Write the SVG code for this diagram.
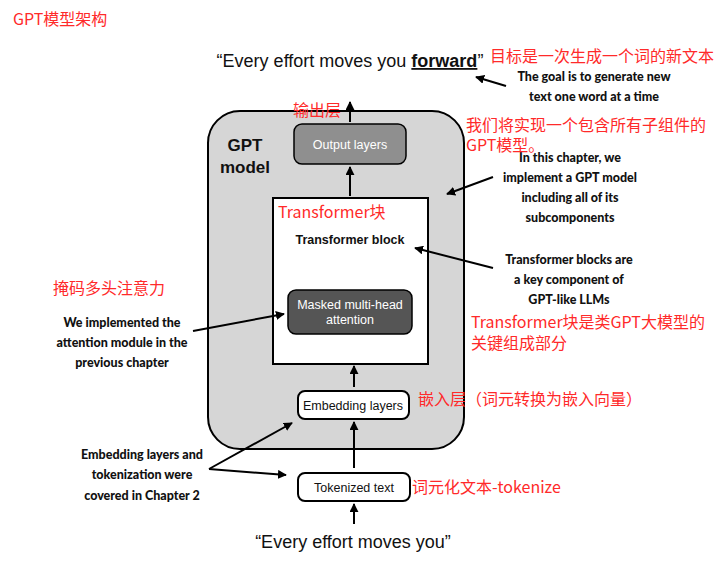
<svg xmlns="http://www.w3.org/2000/svg" width="720" height="578" viewBox="0 0 720 578">
<defs>
<marker id="ah" viewBox="0 0 10 10" refX="9" refY="5" markerWidth="9" markerHeight="9" markerUnits="userSpaceOnUse" orient="auto">
<path d="M0,0 L10,5 L0,10 z" fill="#000"/>
</marker>
<style>
.red{font-family:"Noto Sans CJK SC","Noto Sans",sans-serif;font-size:16px;fill:#ff2a2a}
.ann{font-family:Lato,"Liberation Sans",sans-serif;font-weight:900;font-size:12.5px;fill:#111;text-anchor:middle}
.box{font-family:"Liberation Sans",Arial,sans-serif;font-size:12.5px;text-anchor:middle}
.quote{font-family:"Liberation Sans",Arial,sans-serif;font-size:18px;fill:#111;text-anchor:middle}
.ln{stroke:#000;stroke-width:2;fill:none}
</style>
</defs>
<rect width="720" height="578" fill="#fff"/>
<text class="red" x="13" y="25">GPT模型架构</text>

<g id="gpt-model">
<rect x="208" y="111" width="256" height="338" rx="32" fill="#d6d6d6" stroke="#000" stroke-width="2"/>
<text x="245" y="151" font-family="Liberation Sans,Arial,sans-serif" font-weight="bold" font-size="17" text-anchor="middle" fill="#111">GPT</text>
<text x="245" y="173" font-family="Liberation Sans,Arial,sans-serif" font-weight="bold" font-size="17" text-anchor="middle" fill="#111">model</text>
</g>

<g id="output-layers">
<rect x="294" y="124" width="112" height="40" rx="8" fill="#8f8f8f" stroke="#000" stroke-width="1.5"/>
<text class="box" x="350" y="149" fill="#fff">Output layers</text>
</g>

<g id="transformer-block">
<rect x="273" y="198" width="155" height="166" fill="#fff" stroke="#000" stroke-width="2"/>
<text x="350" y="244" font-family="Liberation Sans,Arial,sans-serif" font-weight="bold" font-size="12.5" text-anchor="middle" fill="#111">Transformer block</text>
</g>

<g id="masked-attention">
<rect x="288" y="290" width="124" height="44" rx="8" fill="#555" stroke="#000" stroke-width="1.5"/>
<text class="box" x="350" y="309" fill="#fff">Masked multi-head</text>
<text class="box" x="350" y="324" fill="#fff">attention</text>
</g>

<g id="embedding-layers">
<rect x="298" y="391" width="111" height="28" rx="7" fill="#fff" stroke="#000" stroke-width="2"/>
<text class="box" x="353" y="410" fill="#111">Embedding layers</text>
</g>

<g id="tokenized-text">
<rect x="298" y="473" width="112" height="28" rx="7" fill="#fff" stroke="#000" stroke-width="2"/>
<text class="box" x="354" y="492" fill="#111">Tokenized text</text>
</g>

<g id="top-text">
<text class="quote" x="350" y="67">“Every effort moves you <tspan font-weight="bold" text-decoration="underline">forward</tspan>”</text>
</g>
<g id="bottom-text">
<text class="quote" x="353" y="548">“Every effort moves you”</text>
</g>

<g id="connectors">
<line class="ln" x1="350" y1="122" x2="350" y2="102" marker-end="url(#ah)"/>
<line class="ln" x1="350" y1="196" x2="350" y2="167" marker-end="url(#ah)"/>
<line class="ln" x1="354" y1="387" x2="354" y2="366" marker-end="url(#ah)"/>
<line class="ln" x1="354" y1="468" x2="354" y2="422" marker-end="url(#ah)"/>
<line class="ln" x1="354" y1="524" x2="354" y2="504" marker-end="url(#ah)"/>
<line class="ln" x1="506" y1="86" x2="476" y2="77" marker-end="url(#ah)"/>
<line class="ln" x1="493" y1="177" x2="447" y2="194" marker-end="url(#ah)"/>
<line class="ln" x1="493" y1="268" x2="415" y2="248" marker-end="url(#ah)"/>
<line class="ln" x1="193" y1="331" x2="284" y2="314" marker-end="url(#ah)"/>
<line class="ln" x1="209" y1="469" x2="292" y2="423" marker-end="url(#ah)"/>
<line class="ln" x1="209" y1="469" x2="286" y2="475" marker-end="url(#ah)"/>
</g>

<g id="annotations">
<text class="ann" x="594" y="81">The goal is to generate new</text>
<text class="ann" x="594" y="101">text one word at a time</text>
<text class="ann" x="570" y="162">In this chapter, we</text>
<text class="ann" x="570" y="182">implement a GPT model</text>
<text class="ann" x="570" y="202">including all of its</text>
<text class="ann" x="570" y="222">subcomponents</text>
<text class="ann" x="569" y="264">Transformer blocks are</text>
<text class="ann" x="569" y="284">a key component of</text>
<text class="ann" x="569" y="304">GPT-like LLMs</text>
<text class="ann" x="122" y="327">We implemented the</text>
<text class="ann" x="122" y="347">attention module in the</text>
<text class="ann" x="122" y="367">previous chapter</text>
<text class="ann" x="142" y="459">Embedding layers and</text>
<text class="ann" x="142" y="479">tokenization were</text>
<text class="ann" x="142" y="500">covered in Chapter 2</text>
</g>

<g id="red-notes">
<text class="red" x="490" y="62">目标是一次生成一个词的新文本</text>
<text class="red" x="293" y="116">输出层</text>
<text class="red" x="466" y="131">我们将实现一个包含所有子组件的</text>
<text class="red" x="466" y="151">GPT模型。</text>
<text class="red" x="278" y="218">Transformer块</text>
<text class="red" x="53" y="294">掩码多头注意力</text>
<text class="red" x="471" y="328">Transformer块是类GPT大模型的</text>
<text class="red" x="471" y="349">关键组成部分</text>
<text class="red" x="418" y="405">嵌入层（词元转换为嵌入向量）</text>
<text class="red" x="412" y="493">词元化文本-tokenize</text>
</g>
</svg>
